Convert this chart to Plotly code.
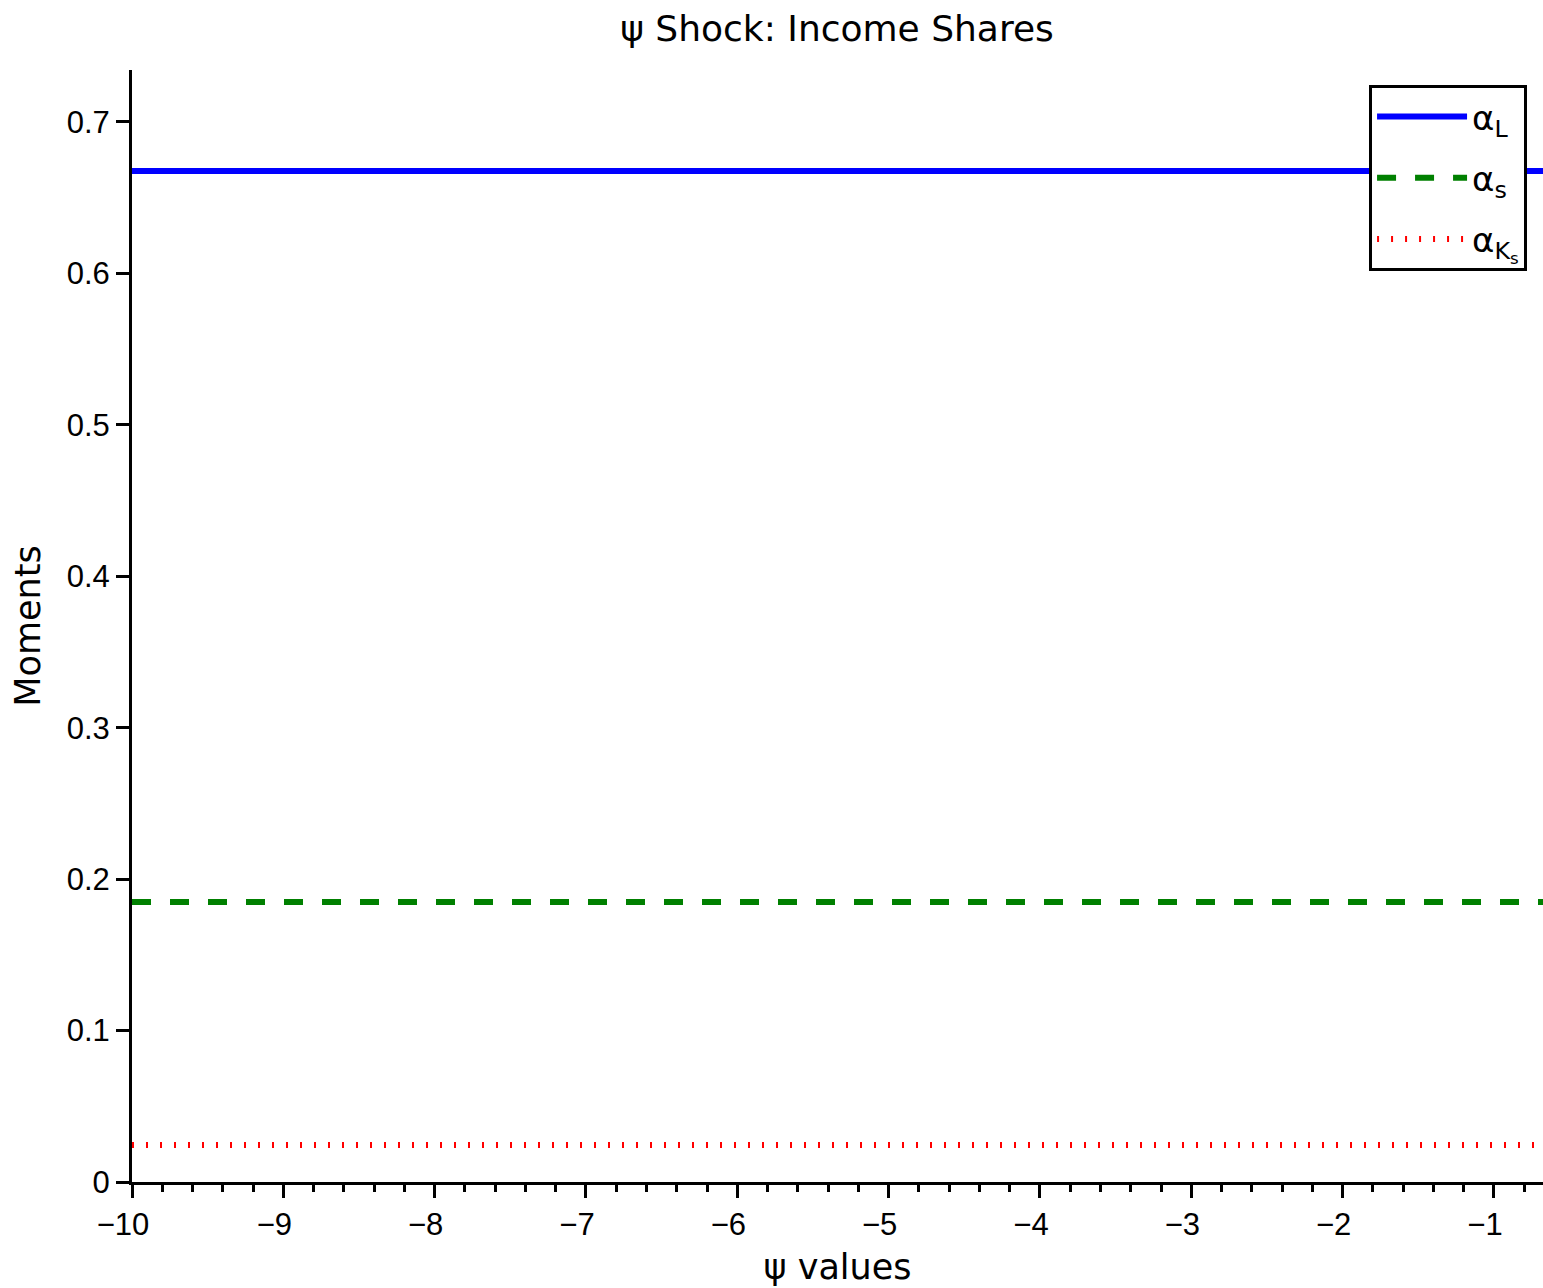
import plotly.graph_objects as go

# Shock parameter grid and the resulting income shares (flat across psi)
psi_values = [-10.0, -9.0, -8.0, -7.0, -6.0, -5.0, -4.0, -3.0, -2.0, -1.0, -0.5]
alpha_L = [0.6676, 0.6676, 0.6676, 0.6676, 0.6676, 0.6676, 0.6676, 0.6676, 0.6676, 0.6676, 0.6676]
alpha_s = [0.1849, 0.1849, 0.1849, 0.1849, 0.1849, 0.1849, 0.1849, 0.1849, 0.1849, 0.1849, 0.1849]
alpha_Ks = [0.0244, 0.0244, 0.0244, 0.0244, 0.0244, 0.0244, 0.0244, 0.0244, 0.0244, 0.0244, 0.0244]

series_names = ["α<sub>L</sub>", "α<sub>s</sub>", "α<sub>K<sub>s</sub></sub>"]
x_ticks = [-10, -9, -8, -7, -6, -5, -4, -3, -2, -1]
y_ticks = [0, 0.1, 0.2, 0.3, 0.4, 0.5, 0.6, 0.7]
y_tick_labels = ["0", "0.1", "0.2", "0.3", "0.4", "0.5", "0.6", "0.7"]

TICK_FONT = dict(family="Arial, Liberation Sans, sans-serif", size=31, color="black")
TITLE_FONT = dict(family="DejaVu Sans, sans-serif", size=36, color="black")
AXIS_TITLE_FONT = dict(family="DejaVu Sans, sans-serif", size=35, color="black")

fig = go.Figure()
fig.add_trace(go.Scatter(x=psi_values, y=alpha_L, mode="lines", name=series_names[0],
                         legendgroup="L", line=dict(color="#0000ff", width=6)))
fig.add_trace(go.Scatter(x=psi_values, y=alpha_s, mode="lines", name=series_names[1],
                         legendgroup="s", line=dict(color="#008000", width=6, dash="19px,19px")))
fig.add_trace(go.Scatter(x=psi_values, y=alpha_Ks, mode="lines", name=series_names[2],
                         legendgroup="Ks", line=dict(color="#ff0000", width=6, dash="2px,12px")))

fig.update_layout(
    width=1543, height=1288,
    margin=dict(l=132, r=0, t=70, b=106),
    paper_bgcolor="white", plot_bgcolor="white",
    title=dict(text="ψ Shock: Income Shares", x=837 / 1543, xanchor="center",
               y=1 - 28 / 1288, yanchor="middle", font=TITLE_FONT),
    showlegend=True,
    legend=dict(x=0.9887, y=0.9865, xanchor="right", yanchor="top",
                bgcolor="white", bordercolor="black", borderwidth=3,
                font=dict(family="DejaVu Sans, sans-serif", size=34, color="black"),
                itemwidth=90, tracegroupgap=14, entrywidth=70),
)

fig.update_xaxes(
    range=[-10, -0.676], tickvals=x_ticks, ticktext=["\u2212" + str(-v) for v in x_ticks],
    showgrid=False, zeroline=False, showline=True, linecolor="black", linewidth=3,
    ticks="outside", ticklen=13, tickwidth=3, tickcolor="black", tickfont=TICK_FONT,
    ticklabelshift=-9,
    minor=dict(dtick=0.2, tick0=-10, ticks="outside", ticklen=7, tickwidth=3, tickcolor="black"),
    title=dict(text="ψ values", font=AXIS_TITLE_FONT, standoff=14),
)
fig.update_yaxes(
    range=[0, 0.7343], tickvals=y_ticks, ticktext=y_tick_labels,
    showgrid=False, zeroline=False, showline=True, linecolor="black", linewidth=3,
    ticks="outside", ticklen=13, tickwidth=3, tickcolor="black", tickfont=TICK_FONT,
    title=dict(text="Moments", font=AXIS_TITLE_FONT, standoff=16),
)

fig.write_html("out.html")
